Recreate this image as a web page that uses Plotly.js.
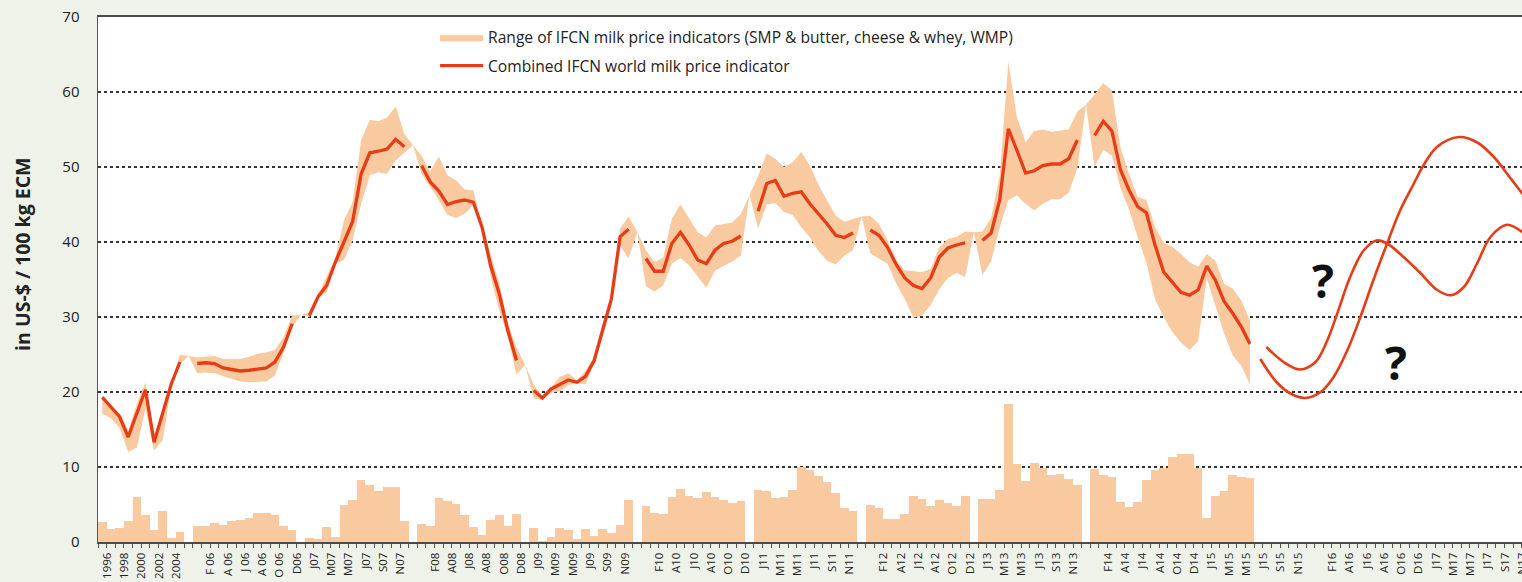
<!DOCTYPE html>
<html>
<head>
<meta charset="utf-8">
<script src="https://cdn.plot.ly/plotly-3.0.1.min.js"></script>
<style>
  html, body { margin: 0; padding: 0; overflow: hidden; background: #eff2e9; }
  #chart { width: 1560px; height: 582px; }
</style>
</head>
<body>
<div id="chart"></div>
<script>
// ---------- categories / tick labels ----------
const annualYears = ['1996','1997','1998','1999','2000','2001','2002','2003','2004','2005'];
const monthLetters = ['J','F','M','A','M','J','J','A','S','O','N','D'];
const monthYears = ['06','07','08','09','10','11','12','13','14','15','16','17'];

// ---------- data (one row per year; the last slot of a row is the gap between years) ----------
// Combined IFCN world milk price indicator (US-$ / 100 kg ECM)
const combined = [
  19.3, 18.0, 16.7, 14.0, 17.1, 20.3, 13.3, 17.1, 21.1, 24.0, null,
  23.8, 23.9, 23.8, 23.2, 23.0, 22.8, 22.9, 23.1, 23.2, 24.0, 26.0, 29.1, null,
  30.2, 32.7, 34.2, 37.3, 40.0, 42.7, 49.1, 51.9, 52.1, 52.4, 53.7, 52.7, null,
  50.2, 48.0, 46.8, 45.0, 45.4, 45.6, 45.3, 42.0, 36.9, 33.1, 28.2, 24.2, null,
  20.2, 19.2, 20.4, 21.0, 21.6, 21.3, 22.1, 24.2, 28.4, 32.4, 40.7, 41.7, null,
  37.8, 36.1, 36.1, 39.8, 41.3, 39.6, 37.6, 37.1, 38.9, 39.8, 40.1, 40.8, null,
  44.1, 47.8, 48.2, 46.1, 46.5, 46.7, 45.1, 43.8, 42.4, 40.9, 40.6, 41.2, null,
  41.6, 40.9, 39.3, 37.0, 35.2, 34.2, 33.8, 35.2, 38.0, 39.2, 39.6, 39.9, null,
  40.2, 41.2, 45.6, 55.1, 52.2, 49.2, 49.5, 50.2, 50.4, 50.4, 51.1, 53.6, null,
  54.2, 56.1, 54.8, 49.6, 46.9, 44.7, 43.9, 39.6, 36.0, 34.7, 33.3, 32.9, 33.6,
  36.8, 34.9, 32.1, 30.5, 28.7, 26.4
];
// Range of indicators: highest indicator
const rangeHigh = [
  19.6, 18.2, 17.1, 14.8, 18.4, 21.3, 13.8, 17.6, 21.3, 25.0, 24.8,
  24.6, 24.7, 24.8, 24.4, 24.4, 24.4, 24.7, 25.1, 25.3, 25.6, 27.3, 30.2, 30.3,
  30.6, 33.0, 35.3, 37.8, 42.9, 45.3, 53.6, 56.3, 56.1, 56.6, 58.1, 54.4, 52.9,
  51.5, 49.4, 51.4, 48.9, 48.2, 47.0, 46.9, 42.2, 38.3, 34.5, 29.1, 26.0, 23.6,
  21.0, 19.4, 20.6, 22.0, 22.5, 21.6, 22.8, 24.6, 29.2, 33.0, 41.8, 43.4, 41.3,
  38.9, 37.3, 37.9, 43.1, 45.0, 43.1, 41.3, 40.6, 42.2, 42.4, 42.6, 43.7, 46.3,
  48.8, 51.8, 51.1, 50.0, 50.6, 52.0, 50.2, 47.6, 45.5, 43.5, 42.7, 43.1, 43.4,
  43.5, 42.4, 40.2, 37.6, 36.2, 36.1, 36.0, 36.4, 39.3, 40.4, 40.7, 41.4, 41.3,
  41.4, 43.2, 48.8, 64.0, 56.6, 53.3, 54.8, 55.0, 54.7, 54.8, 55.0, 57.4, 58.3,
  59.7, 61.2, 60.2, 52.6, 49.0, 46.0, 45.6, 42.0, 39.9, 39.4, 38.4, 37.3, 36.7,
  38.4, 37.5, 34.4, 33.8, 32.2, 29.5
];
// Range of indicators: lowest indicator
const rangeLow = [
  17.1, 16.5, 15.2, 12.0, 12.6, 17.8, 12.2, 13.6, 20.7, 23.7, 24.8,
  22.5, 22.6, 22.5, 22.1, 21.8, 21.4, 21.3, 21.3, 21.4, 22.2, 25.2, 28.6, 30.3,
  30.0, 32.6, 33.3, 37.1, 37.6, 40.2, 45.1, 48.9, 49.3, 49.1, 50.9, 51.9, 52.9,
  49.1, 47.3, 45.6, 43.6, 43.2, 43.8, 44.9, 41.6, 35.4, 30.9, 27.3, 22.3, 23.6,
  19.1, 19.0, 19.9, 20.1, 20.9, 21.2, 21.0, 23.8, 27.5, 31.8, 39.5, 37.8, 41.3,
  34.1, 33.4, 34.2, 37.1, 37.9, 36.9, 35.4, 33.9, 36.2, 36.8, 37.4, 38.2, 46.3,
  41.8, 45.0, 45.2, 44.0, 43.6, 42.0, 40.6, 38.8, 37.5, 37.0, 38.2, 38.9, 43.4,
  38.5, 37.8, 37.1, 34.5, 32.4, 29.9, 30.2, 31.6, 33.7, 35.2, 35.9, 35.3, 41.3,
  35.6, 37.4, 41.9, 45.6, 46.2, 45.1, 44.2, 45.1, 45.7, 45.7, 46.6, 49.8, 58.3,
  50.0, 52.3, 51.5, 47.2, 44.3, 40.6, 37.3, 32.4, 30.0, 28.0, 26.6, 25.6, 26.8,
  35.2, 31.4, 27.8, 24.9, 23.5, 21.0
];
// Spread between highest and lowest indicator (bars)
const spread = [
  2.7, 1.7, 1.9, 2.8, 6.0, 3.6, 1.6, 4.2, 0.6, 1.3, null,
  2.1, 2.1, 2.5, 2.3, 2.8, 3.0, 3.2, 3.9, 3.9, 3.6, 2.1, 1.6, null,
  0.6, 0.4, 2.0, 0.7, 5.0, 5.6, 8.3, 7.6, 6.8, 7.3, 7.3, 2.8, null,
  2.4, 2.1, 5.9, 5.5, 5.1, 3.6, 2.0, 0.9, 3.0, 3.6, 2.2, 3.8, null,
  1.9, 0.2, 0.7, 1.9, 1.6, 0.4, 1.8, 0.8, 1.7, 1.2, 2.3, 5.6, null,
  4.8, 3.9, 3.7, 6.0, 7.1, 6.2, 5.9, 6.7, 6.0, 5.6, 5.2, 5.5, null,
  7.0, 6.8, 5.9, 6.0, 7.0, 10.0, 9.6, 8.8, 8.0, 6.5, 4.5, 4.2, null,
  5.0, 4.6, 3.1, 3.1, 3.8, 6.2, 5.8, 4.8, 5.6, 5.2, 4.8, 6.1, null,
  5.8, 5.8, 6.9, 18.4, 10.4, 8.2, 10.6, 9.9, 9.0, 9.1, 8.4, 7.6, null,
  9.7, 8.9, 8.7, 5.4, 4.7, 5.4, 8.3, 9.6, 9.9, 11.4, 11.8, 11.7, 9.9,
  3.2, 6.1, 6.8, 8.9, 8.7, 8.5
];
// Two hypothetical future paths (position on the period axis, price)
const scenarioAPos = [134.2, 136.1, 137.7, 139.4, 141.2, 142.7, 144.3, 145.8, 147.3, 148.9, 150.4, 152.0, 153.1, 154.7, 157.2, 159.3, 161.3, 162.8, 164.6, 165.6];
const scenarioAVal = [24.4, 21.3, 19.8, 19.2, 20.0, 22.0, 25.6, 30.0, 34.9, 39.8, 44.2, 47.8, 50.2, 52.7, 54.0, 53.3, 51.3, 49.1, 46.4, 44.8];
const scenarioBPos = [134.9, 136.9, 138.8, 140.6, 141.9, 143.1, 144.6, 146.2, 147.7, 148.9, 150.8, 152.8, 154.7, 156.3, 157.8, 159.3, 160.9, 162.8, 164.6, 165.6];
const scenarioBVal = [26.0, 24.0, 23.0, 24.0, 26.7, 30.4, 35.3, 38.9, 40.2, 39.8, 38.0, 35.8, 33.6, 32.9, 34.0, 37.1, 40.7, 42.3, 41.3, 40.2];

// ---------- build the period axis ----------
const categories = annualYears.slice();
categories.push('');
monthYears.forEach(yy => {
  monthLetters.forEach(m => categories.push(yy === '06' && m !== 'D' ? m + ' ' + yy : m + yy));
  categories.push('');
});
const labelShift = 0.55; // rotated labels sit slightly right of the category centre in the original
const tickvals = [], ticktext = [];
categories.forEach((c, i) => { if (i % 2 === 0 && c !== '') { tickvals.push(i + labelShift); ticktext.push(c); } });
const dataIdx = combined.map((_, i) => i);

const peach = '#f9caa0';
const red = '#e63d17';

const traces = [
  { type: 'bar', x: dataIdx, y: spread, width: 1, marker: { color: peach, line: { width: 0 } },
    showlegend: false, hoverinfo: 'skip' },
  { type: 'scatter', mode: 'lines', x: dataIdx, y: rangeLow, line: { width: 0, color: 'rgba(0,0,0,0)' },
    showlegend: false, hoverinfo: 'skip', legendgroup: 'g0' },
  { type: 'scatter', mode: 'lines', x: dataIdx, y: rangeHigh, fill: 'tonexty', fillcolor: peach,
    line: { width: 0, color: 'rgba(0,0,0,0)' }, legendgroup: 'g1',
    name: 'Range of IFCN milk price indicators (SMP & butter, cheese & whey, WMP)' },
  { type: 'scatter', mode: 'lines', x: dataIdx, y: combined, connectgaps: false,
    line: { width: 3.3, color: red }, legendgroup: 'g2',
    name: 'Combined IFCN world milk price indicator' },
  { type: 'scatter', mode: 'lines', x: scenarioAPos, y: scenarioAVal, line: { shape: 'spline', width: 2.6, color: red },
    showlegend: false, hoverinfo: 'skip' },
  { type: 'scatter', mode: 'lines', x: scenarioBPos, y: scenarioBVal, line: { shape: 'spline', width: 2.6, color: red },
    showlegend: false, hoverinfo: 'skip' }
];

const layout = {
  width: 1560, height: 582,
  margin: { l: 98, r: 21, t: 17, b: 40, pad: 0 },
  paper_bgcolor: '#eff2e9',
  plot_bgcolor: '#ffffff',
  font: { family: '"Open Sans", sans-serif', color: '#222' },
  bargap: 0,
  hovermode: false,
  showlegend: true,
  legend: { x: 0.2339, y: 0.993, xanchor: 'left', yanchor: 'top', bgcolor: 'rgba(0,0,0,0)',
            font: { size: 15.6, color: '#222' }, traceorder: 'grouped', tracegroupgap: 5, itemwidth: 43 },
  xaxis: {
    range: [-0.5, 166.5], tickmode: 'array', tickvals: tickvals, ticktext: ticktext,
    tickangle: -90, tickfont: { size: 11.5, color: '#222' }, ticks: '', ticklabelstandoff: 4,
    minor: { tickmode: 'linear', tick0: -0.5, dtick: 1, ticks: 'outside', ticklen: 4, tickcolor: '#555', tickwidth: 1, showgrid: false },
    showgrid: false, zeroline: false, showline: true, linecolor: '#4a4a4a', linewidth: 2, mirror: true,
    layer: 'below traces', fixedrange: true
  },
  yaxis: {
    range: [0, 70], dtick: 10, tick0: 0, tickfont: { size: 15, color: '#222' }, ticks: '', ticklabelstandoff: 14,
    showgrid: true, gridcolor: '#333', griddash: 'dot', gridwidth: 1.3,
    zeroline: false, showline: true, linecolor: '#555', linewidth: 1.5, fixedrange: true
  },
  annotations: [
    { xref: 'paper', yref: 'paper', x: -0.052, y: 0.547, text: '<b>in US-$ / 100 kg ECM</b>', textangle: -90,
      showarrow: false, font: { size: 19.5, color: '#222' }, xanchor: 'center', yanchor: 'middle' },
    { xref: 'x', yref: 'y', x: 141.5, y: 34.9, text: '<b>?</b>', showarrow: false,
      font: { size: 46, color: '#111' }, xanchor: 'center', yanchor: 'middle' },
    { xref: 'x', yref: 'y', x: 149.9, y: 24.0, text: '<b>?</b>', showarrow: false,
      font: { size: 46, color: '#111' }, xanchor: 'center', yanchor: 'middle' }
  ]
};

Plotly.newPlot('chart', traces, layout, { displayModeBar: false, staticPlot: true });
</script>
</body>
</html>
